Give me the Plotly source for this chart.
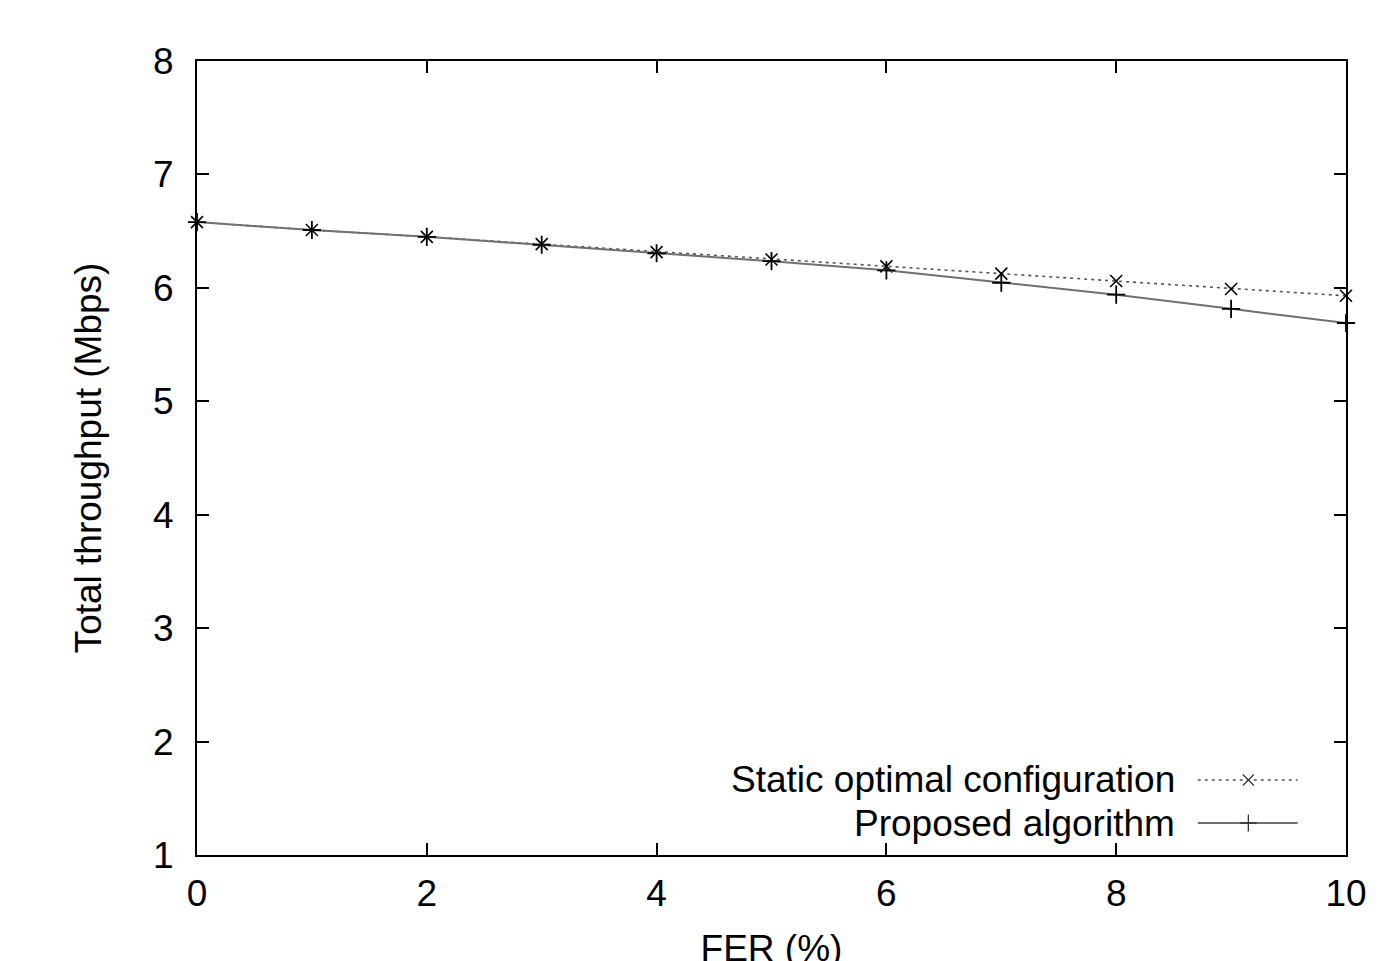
import plotly.graph_objects as go

fer = [0, 1, 2, 3, 4, 5, 6, 7, 8, 9, 10]
static_opt = [6.58, 6.51, 6.45, 6.385, 6.315, 6.25, 6.19, 6.125, 6.06, 5.99, 5.93]
proposed = [6.58, 6.51, 6.45, 6.38, 6.305, 6.235, 6.155, 6.045, 5.94, 5.815, 5.69]
series_names = ["Static optimal configuration", "Proposed algorithm"]
x_ticks = [0, 2, 4, 6, 8, 10]
y_ticks = [1, 2, 3, 4, 5, 6, 7, 8]

FONT = "Liberation Sans, Arial, sans-serif"
FS = 37

fig = go.Figure()
fig.add_trace(go.Scatter(
    x=fer, y=static_opt, mode="lines+markers", name=series_names[0],
    line=dict(color="#555555", width=1.6, dash="3px,4px"),
    marker=dict(symbol="x-thin-open", size=12, color="black", line=dict(color="black", width=1.6)),
    showlegend=False, cliponaxis=False))
fig.add_trace(go.Scatter(
    x=fer, y=proposed, mode="lines+markers", name=series_names[1],
    line=dict(color="#707070", width=2),
    marker=dict(symbol="cross-thin-open", size=13, color="black", line=dict(color="black", width=1.8)),
    showlegend=False, cliponaxis=False))

# legend keys (drawn on an overlay axis spanning the plot area)
key_x = [0.871, 0.915, 0.958]
fig.add_trace(go.Scatter(
    x=key_x, y=[0.0945] * 3, xaxis="x2", yaxis="y2", mode="lines",
    line=dict(color="#555555", width=1.4, dash="3px,4px"), showlegend=False, hoverinfo="skip"))
fig.add_trace(go.Scatter(
    x=[key_x[1]], y=[0.0945], xaxis="x2", yaxis="y2", mode="markers",
    marker=dict(symbol="x-thin-open", size=11, color="#333", line=dict(color="#333", width=1.3)),
    showlegend=False, hoverinfo="skip"))
fig.add_trace(go.Scatter(
    x=key_x, y=[0.0403] * 3, xaxis="x2", yaxis="y2", mode="lines",
    line=dict(color="#707070", width=1.8), showlegend=False, hoverinfo="skip"))
fig.add_trace(go.Scatter(
    x=[key_x[1]], y=[0.0403], xaxis="x2", yaxis="y2", mode="markers",
    marker=dict(symbol="cross-thin-open", size=12, color="#333", line=dict(color="#333", width=1.3)),
    showlegend=False, hoverinfo="skip"))

for name, yy in zip(series_names, [0.0945, 0.0403]):
    fig.add_annotation(x=0.853, y=yy, xref="x2", yref="y2", text=name, showarrow=False,
                       xanchor="right", yanchor="middle", font=dict(family=FONT, size=FS, color="black"))

axis_common = dict(
    showgrid=False, zeroline=False, showline=True, linecolor="black", linewidth=2,
    mirror="ticks", ticks="inside", ticklen=12, tickwidth=1.5, tickcolor="black",
    tickfont=dict(family=FONT, size=FS, color="black"), automargin=False,
)
# page body has an 8px margin; compensate so the plot area matches the reference
fig.update_layout(
    width=1400, height=961,
    margin=dict(l=189, r=62, t=53, b=114),
    paper_bgcolor="white", plot_bgcolor="white",
    xaxis=dict(range=[0, 10], tickvals=x_ticks, ticklabelstandoff=5,
               title=dict(text="FER (%)", font=dict(family=FONT, size=FS, color="black"), standoff=30),
               **axis_common),
    yaxis=dict(range=[1, 8], tickvals=y_ticks, ticklabelstandoff=14,
               title=dict(text="Total throughput (Mbps)", font=dict(family=FONT, size=FS, color="black"), standoff=40),
               **axis_common),
    xaxis2=dict(range=[0, 1], overlaying="x", visible=False, fixedrange=True),
    yaxis2=dict(range=[0, 1], overlaying="y", visible=False, fixedrange=True),
    showlegend=False,
)

fig.write_html("out.html")
